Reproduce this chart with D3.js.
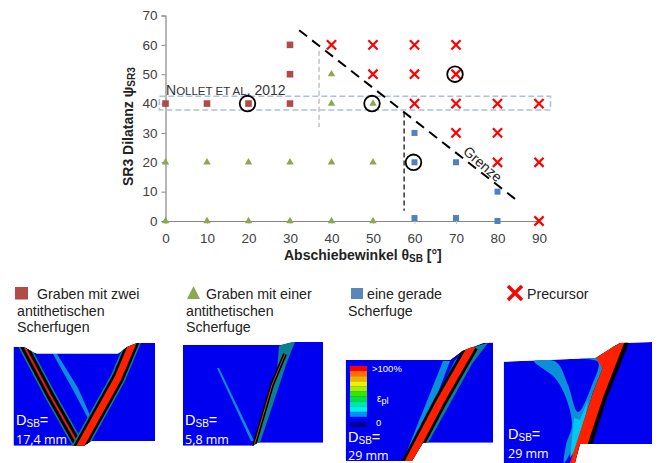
<!DOCTYPE html>
<html><head><meta charset="utf-8">
<script src="https://cdn.jsdelivr.net/npm/d3@7/dist/d3.min.js"></script>
<style>html,body{margin:0;padding:0;background:#fff}svg{display:block}text{font-family:"Liberation Sans",Arial,sans-serif}</style>
</head><body><div id="c"></div>
<script>
const xTicks=[0,10,20,30,40,50,60,70,80,90];
const yTicks=[0,10,20,30,40,50,60,70];
const zweiScherfugen=[[0,40],[10,40],[20,40],[30,40],[30,50],[30,60]];
const eineAntithetische=[[0,0],[10,0],[20,0],[30,0],[40,0],[50,0],[0,20],[10,20],[20,20],[30,20],[40,20],[50,20],[40,40],[50,40],[40,50]];
const geradeScherfuge=[[60,30],[60,20],[70,20],[80,10],[60,1],[70,1],[80,0]];
const precursor=[[40,60],[50,60],[60,60],[70,60],[50,50],[60,50],[70,50],[60,40],[70,40],[80,40],[90,40],[70,30],[80,30],[80,20],[90,20],[90,0]];
const circled=[[20,40],[50,40],[70,50],[60,20]];
const grenze=[[32.2,65],[84.7,7]];
const nolletBand=[[-1,42.5],[93,37.8]];
const greyLimit=[[37,58],[37,32]];
const darkLimit=[[57.5,37],[57.5,3.5]];
const colorbar=["#ff0000","#ff7000","#f0b000","#f0f000","#a0f000","#30e800","#00e040","#00e8a0","#00f0f0","#0090f0","#0000ff","#00008c"];

const svg=d3.select("#c").append("svg").attr("width",660).attr("height",463);
const x=d3.scaleLinear().domain([0,90]).range([165.5,539]);
const y=d3.scaleLinear().domain([0,70]).range([221,15.5]);
const TXT="#404040",AX="#868686";

const gx=svg.append("g").attr("transform","translate(0,221)").call(d3.axisBottom(x).tickValues(xTicks).tickSize(3).tickPadding(9).tickFormat(d3.format("d")));
const gy=svg.append("g").attr("transform","translate(165.5,0)").call(d3.axisLeft(y).tickValues(yTicks).tickSize(4).tickPadding(4).tickFormat(d3.format("d")));
[gx,gy].forEach(g=>{g.selectAll("path").attr("stroke",AX).attr("stroke-width",1.2);
 g.selectAll("line").attr("stroke",AX);
 g.selectAll("text").attr("fill",TXT).style("font-size","13.5px").style("font-family","'Liberation Sans',Arial,sans-serif");});
gx.selectAll("line").attr("stroke","#c8c8c8");

const xt=svg.append("text").attr("x",284).attr("y",260).attr("font-size",14).attr("font-weight","bold").attr("fill","#222");
xt.append("tspan").text("Abschiebewinkel θ");
xt.append("tspan").attr("font-size",10).attr("dy",2).text("SB");
xt.append("tspan").attr("dy",-2).text(" [°]");
const yt=svg.append("text").attr("transform","translate(133,186) rotate(-90)").attr("font-size",14).attr("font-weight","bold").attr("fill","#222");
yt.append("tspan").text("SR3 Dilatanz ψ");
yt.append("tspan").attr("font-size",10).attr("dy",2).text("SR3");

svg.append("rect").attr("x",x(nolletBand[0][0])-2).attr("y",y(nolletBand[0][1])).attr("width",x(nolletBand[1][0])-x(nolletBand[0][0])+1)
 .attr("height",y(nolletBand[1][1])-y(nolletBand[0][1])).attr("fill","none").attr("stroke","#a9c2e0").attr("stroke-width",1.6).attr("stroke-dasharray","6 3");

const ln=d3.line().x(d=>x(d[0])).y(d=>y(d[1]));
svg.append("path").attr("d",ln(greyLimit)).attr("fill","none").attr("stroke","#bdbdbd").attr("stroke-width",1.4).attr("stroke-dasharray","5 3");
svg.append("path").attr("d",ln(darkLimit)).attr("fill","none").attr("stroke","#404040").attr("stroke-width",1.6).attr("stroke-dasharray","5 3");
svg.append("path").attr("d",ln(grenze)).attr("fill","none").attr("stroke","#000").attr("stroke-width",2).attr("stroke-dasharray","10 6.5");

svg.append("g").selectAll("rect").data(zweiScherfugen).join("rect").attr("x",d=>x(d[0])-3.3).attr("y",d=>y(d[1])-3.3).attr("width",6.6).attr("height",6.6).attr("fill","#b04b48");
svg.append("g").selectAll("rect").data(geradeScherfuge).join("rect").attr("x",d=>x(d[0])-3).attr("y",d=>y(d[1])-3).attr("width",6).attr("height",6).attr("fill","#4f81bd");
const tri=d3.symbol().type(d3.symbolTriangle).size(24);
svg.append("g").selectAll("path").data(eineAntithetische).join("path").attr("d",tri).attr("transform",d=>`translate(${x(d[0])},${y(d[1])})`).attr("fill","#8aa84e");
svg.append("g").selectAll("path").data(precursor).join("path")
 .attr("d","M-4.6,-4.6L4.6,4.6M-4.6,4.6L4.6,-4.6").attr("transform",d=>`translate(${x(d[0])},${y(d[1])})`).attr("stroke","#ff0000").attr("stroke-width",2.2).attr("fill","none");
svg.append("g").selectAll("circle").data(circled).join("circle").attr("cx",d=>x(d[0])-1).attr("cy",d=>y(d[1])).attr("r",7.8).attr("fill","none").attr("stroke","#000").attr("stroke-width",1.8);

const n=svg.append("text").attr("x",166).attr("y",95).attr("fill","#333").attr("font-size",11.5);
n.append("tspan").attr("font-size",14).text("N");n.append("tspan").text("OLLET ET AL");n.append("tspan").attr("font-size",14).text(". 2012");
svg.append("text").attr("transform","translate(482,165) rotate(41)").attr("text-anchor","middle").attr("dominant-baseline","middle").attr("font-size",14).attr("fill","#222").text("Grenze");

function lines(rows){rows.forEach(r=>svg.append("text").attr("x",r[0]).attr("y",r[1]).attr("font-size",14.2).attr("fill","#222").text(r[2]));}
svg.append("rect").attr("x",15).attr("y",287).attr("width",13).attr("height",12.5).attr("fill","#b04b48");
lines([[37,299,"Graben mit zwei"],[17,316,"antithetischen"],[17,332,"Scherfugen"]]);
svg.append("path").attr("d","M187,299L193.5,286L200,299Z").attr("fill","#8aa84e");
lines([[206,299,"Graben mit einer"],[186,316,"antithetischen"],[186,332,"Scherfuge"]]);
svg.append("rect").attr("x",351).attr("y",288).attr("width",12).attr("height",11).attr("fill","#5b86bb");
lines([[367,299,"eine gerade"],[348,316,"Scherfuge"]]);
svg.append("path").attr("d","M508,286L522,300M508,300L522,286").attr("stroke","#ff0000").attr("stroke-width",3.4);
lines([[527,299,"Precursor"]]);

const BL="#0000f0";
const pl=d3.line(), smooth=d3.line().curve(d3.curveCatmullRomClosed);
let cur, pid=0;
function panel(p){
 pid++;
 svg.append("clipPath").attr("id","pn"+pid).append("path").attr("d",pl(p)+"Z");
 cur=svg.append("g").attr("clip-path",`url(#pn${pid})`);
 cur.append("path").attr("d",pl(p)+"Z").attr("fill",BL);
}
function poly(p,fill){cur.append("path").attr("d",pl(p)+"Z").attr("fill",fill);}
function blob(p,fill){cur.append("path").attr("d",smooth(p)).attr("fill",fill);}
function band(p,w,c){cur.append("path").attr("d",pl(p)).attr("fill","none").attr("stroke",c).attr("stroke-width",w).attr("stroke-linejoin","round");}
function dsb(px,y1,y2,val){
 const t=svg.append("text").attr("x",px).attr("y",y1).attr("fill","#fff").attr("font-size",14.5);
 t.append("tspan").text("D");t.append("tspan").attr("font-size",10).attr("dy",1.5).text("SB");t.append("tspan").attr("dy",-1.5).text("=");
 svg.append("text").attr("x",px).attr("y",y2).attr("fill","#fff").attr("font-size",12.5).style("font-family","'Open Sans'").text(val);
}
// panel 1
panel([[13.5,347],[24,347],[33,352],[37,353.5],[118,353.5],[127,347],[137,343],[155,343],[155,441],[92,441],[84,445.7],[13.5,445.7]]);
poly([[53,354],[57,354],[78,388],[93,422],[90,422],[72,388]],"#0a90d8");
let p=[[22,342],[50,395],[80,448]];
band(p,11,"#0e7f90");band(p,8,"#000");band(p,2,"#e02010");
p=[[134,340],[118,378],[78,450]];
band(p,15,"#0e7f90");band(p,12,"#000");band(p,7,"#ff2000");
dsb(16,425,444,"17,4 mm");
// panel 2
panel([[183,345],[280,345],[293,342],[323,342],[323,442.7],[258,442.7],[253,445.7],[183,445.7]]);
poly([[217,368],[219,368],[254,441],[251,441]],"#0a90d8");
poly([[279,346],[290,342],[295,342],[287,362],[259,446],[252,446],[277,370]],"#0e7f90");
p=[[285,354],[272,385],[254,446]];
band(p,4,"#000");band(p,1,"#c04020");
dsb(185,425,444,"5,8 mm");
// panel 3
panel([[345.7,360],[450,360],[462,351],[483,343],[493,342.5],[493,442.7],[423,442.7],[412,461],[345.7,461]]);
poly([[443,361],[450,361],[412,461],[403,461]],"#0a90d8");
poly([[455,360],[470,348],[488,343],[472,364],[428,443],[415,461],[406,461]],"#0e7f90");
p=[[472,346],[440,402],[408,463]];
band(p,13,"#000");band(p,7.5,"#ff2000");
const cb=d3.scaleBand().domain(d3.range(colorbar.length)).range([366,427]);
svg.append("g").selectAll("rect").data(colorbar).join("rect").attr("x",350).attr("y",(d,i)=>cb(i)).attr("width",17).attr("height",cb.bandwidth()+.2).attr("fill",d=>d);
svg.append("text").attr("x",372).attr("y",372).attr("fill","#fff").attr("font-size",9.5).text(">100%");
svg.append("text").attr("x",376).attr("y",426).attr("fill","#fff").attr("font-size",9.5).text("0");
const eps=svg.append("text").attr("x",377).attr("y",402).attr("fill","#fff").attr("font-size",10);
eps.append("tspan").text("ε");eps.append("tspan").attr("font-size",9).attr("dy",2).text("pl");
dsb(348,442,459.5,"29 mm");
// panel 4
panel([[503.7,361.7],[595,358],[608,350],[620,343],[652,342],[652,444],[580,444],[575,463],[503.7,463]]);
blob([[534,361],[556,362],[568,385],[578,412],[592,385],[598,362],[578,359],[600,358],[606,372],[592,410],[572,450],[564,463],[566,445],[572,425],[566,398],[555,378]],"#0a90d8");
poly([[574,418],[580,420],[588,400],[582,440],[570,458]],"#00c8f0");
poly([[596,358],[618,342],[628,342],[612,375],[605,372]],"#ff2000");
p=[[622,340],[600,395],[578,465]];
band(p,15,"#000");
p=[[616,342],[596,395],[572,465]];
band(p,2,"#000");
p=[[619,341],[598,395],[575,465]];
band(p,11,"#ff2000");
dsb(508,439,458,"29 mm");
</script></body></html>
